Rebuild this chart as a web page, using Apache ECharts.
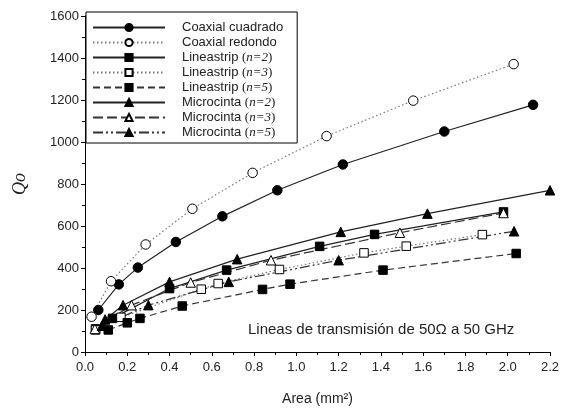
<!DOCTYPE html>
<html><head><meta charset="utf-8">
<script src="https://cdn.jsdelivr.net/npm/echarts@6/dist/echarts.min.js"></script>
<style>html,body{margin:0;padding:0;background:#fff}#c{width:564px;height:413px}</style>
</head><body><div id="c"></div>
<script>
var names = ['Coaxial cuadrado','Coaxial redondo','Lineastrip (n=2)','Lineastrip (n=3)','Lineastrip (n=5)','Microcinta (n=2)','Microcinta (n=3)','Microcinta (n=5)'];
var xTicks = [0,0.2,0.4,0.6,0.8,1.0,1.2,1.4,1.6,1.8,2.0,2.2];
var yTicks = [0,200,400,600,800,1000,1200,1400,1600];

var coaxCuadX = [0.063,0.16,0.25,0.43,0.65,0.91,1.22,1.70,2.12];
var coaxCuadY = [200,322,402,524,646,770,893,1050,1177];
var coaxRedX = [0.031,0.123,0.287,0.508,0.793,1.143,1.553,2.028];
var coaxRedY = [168,337,512,682,853,1028,1197,1371];
var ls2X = [0.05,0.13,0.40,0.67,1.11,1.37,1.98];
var ls2Y = [110,160,302,390,503,560,667];
var ls3X = [0.05,0.17,0.55,0.63,0.92,1.32,1.52,1.88];
var ls3Y = [105,165,299,326,393,472,504,559];
var ls5X = [0.11,0.20,0.26,0.46,0.84,0.97,1.41,2.04];
var ls5Y = [105,139,160,219,298,323,390,469];
var mc2X = [0.095,0.18,0.40,0.72,1.21,1.62,2.20];
var mc2Y = [155,223,334,442,572,659,770];
var mc3X = [0.047,0.22,0.50,0.88,1.49,1.98];
var mc3Y = [110,223,331,437,568,662];
var mc5X = [0.08,0.30,0.68,1.20,2.03];
var mc5Y = [125,223,334,437,575];

function zip(a,b){return a.map(function(v,i){return [v,b[i]];});}

var styles = [
  {sym:'circle', fill:'#000', dash:'solid', col:'#222', w:1.2},
  {sym:'circle', fill:'#fff', dash:[1.5,2.5], col:'#777', w:1.2},
  {sym:'rect', fill:'#000', dash:'solid', col:'#222', w:1.2},
  {sym:'rect', fill:'#fff', dash:[1.5,2.5], col:'#777', w:1.2},
  {sym:'rect', fill:'#000', dash:[7,4], col:'#333', w:1.2},
  {sym:'triangle', fill:'#000', dash:'solid', col:'#222', w:1.2},
  {sym:'triangle', fill:'#fff', dash:[10,4], col:'#333', w:1.2},
  {sym:'triangle', fill:'#000', dash:[10,3,2,3,2,3], col:'#333', w:1.2}
];
var dataSets = [zip(coaxCuadX,coaxCuadY),zip(coaxRedX,coaxRedY),zip(ls2X,ls2Y),zip(ls3X,ls3Y),zip(ls5X,ls5Y),zip(mc2X,mc2Y),zip(mc3X,mc3Y),zip(mc5X,mc5Y)];

var series = names.map(function(n,i){
  var s = styles[i];
  return {
    name:n, type:'line', data:dataSets[i], smooth:false,
    symbol:s.sym, symbolSize: s.sym==='rect'?8.5:9.5,
    itemStyle:{color:s.fill, borderColor:'#000', borderWidth:1},
    lineStyle:{color:s.col, width:s.w, type:s.dash},
    emphasis:{disabled:true}, animation:false, z: 2
  };
});

var font = 'Liberation Sans, Arial, sans-serif';
var chart = echarts.init(document.getElementById('c'));
function ax(inside){
  return {
    min:0, axisLine:{lineStyle:{color:'#000',width:1}},
    axisTick:{inside:inside,length:4,lineStyle:{color:'#000'}},
    minorTick:{show:true,splitNumber:2,length:3,lineStyle:{color:'#000'}},
    splitLine:{show:false}
  };
}
chart.setOption({
  animation:false,
  backgroundColor:'#fff',
  title:{text:'Lineas de transmisión de 50Ω a 50 GHz', left:243, top:317,
    textStyle:{fontFamily:font,fontSize:15,fontWeight:'normal',color:'#222'}},
  grid:{left:85,right:14,top:16,bottom:61},
  legend:{
    data:names, orient:'vertical', left:86, top:12, itemGap:2,
    itemWidth:72, itemHeight:9, padding:[9,14,4,6],
    backgroundColor:'#fff', borderColor:'#000', borderWidth:1, borderRadius:0,
    selectedMode:false,
    textStyle:{fontFamily:font,fontSize:13,color:'#222',padding:[0,0,0,12],
      rich:{i:{fontFamily:'Liberation Serif, Times New Roman, serif',fontStyle:'italic',fontSize:13,color:'#222'},
            p:{fontFamily:'Liberation Serif, Times New Roman, serif',fontSize:13,color:'#222'}}},
    formatter:function(n){
      var m = n.match(/^(.*) \((n=\d)\)$/);
      if(m){return m[1]+' {p|(}{i|'+m[2]+'}{p|)}';}
      return n;
    }
  },
  xAxis:[
    Object.assign(ax(false), {type:'value', max:2.2, interval:0.2, position:'bottom',
      name:'Area (mm²)', nameLocation:'middle', nameGap:40,
      nameTextStyle:{fontFamily:font,fontSize:14,color:'#222'},
      axisLabel:{fontFamily:font,fontSize:13,color:'#222',margin:9,
        formatter:function(v){return v.toFixed(1);}}}),
    Object.assign(ax(true), {type:'value', max:2.2, interval:0.2, position:'top',
      axisLabel:{show:false}})
  ],
  yAxis:[
    Object.assign(ax(false), {type:'value', max:1600, interval:200, position:'left',
      name:'Qo', nameLocation:'middle', nameGap:56,
      nameTextStyle:{fontFamily:'Liberation Serif, Times New Roman, serif',fontStyle:'italic',fontSize:18,color:'#222'},
      axisLabel:{fontFamily:font,fontSize:13,color:'#222',margin:6,
        formatter:function(v){return String(v);}}}),
    Object.assign(ax(true), {type:'value', max:1600, interval:200, position:'right',
      axisLabel:{show:false}})
  ],
  series:series
});
</script></body></html>
